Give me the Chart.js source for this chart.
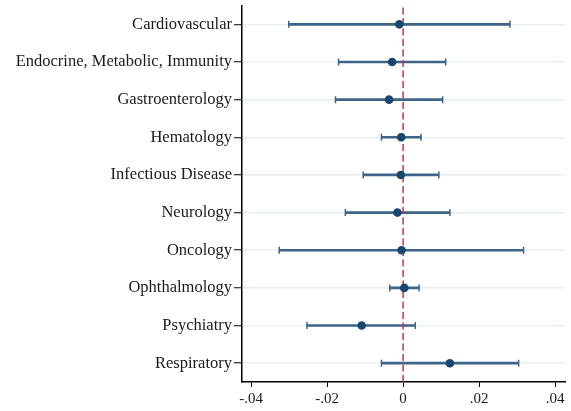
<!DOCTYPE html>
<html>
<head>
<meta charset="utf-8">
<script src="https://cdn.jsdelivr.net/npm/chart.js@4/dist/chart.umd.min.js"></script>
<style>
  html, body { margin: 0; padding: 0; background: #fff; }
  #wrap { width: 571px; height: 411px; position: relative; }
</style>
</head>
<body>
<div id="wrap"><canvas id="coefChart"></canvas></div>
<script>
// Data
const categories = [
    'Cardiovascular',
    'Endocrine, Metabolic, Immunity',
    'Gastroenterology',
    'Hematology',
    'Infectious Disease',
    'Neurology',
    'Oncology',
    'Ophthalmology',
    'Psychiatry',
    'Respiratory'
];
const estimates = [-0.0010, -0.0029, -0.0037, -0.0005, -0.0006, -0.0015, -0.0004, 0.0003, -0.0109, 0.0123];
const ciLow = [-0.0301, -0.0170, -0.0178, -0.0057, -0.0105, -0.0152, -0.0326, -0.0035, -0.0253, -0.0057];
const ciHigh = [0.0281, 0.0112, 0.0104, 0.0047, 0.0094, 0.0123, 0.0317, 0.0042, 0.0032, 0.0304];
const xTickValues = [-0.04, -0.02, 0, 0.02, 0.04];
const refValue = 0;

const barColor = '#3d6589';
const pointColor = '#1a476f';
const serif = "'Liberation Serif', 'DejaVu Serif', serif";

// dashed reference line at x = 0, drawn above the error bars but under the points
const refLine = {
    id: 'refLine',
    afterDatasetDraw(chart, args) {
        if (args.index !== 1) return;
        const ctx = chart.ctx;
        const x = chart.scales.x.getPixelForValue(refValue);
        const area = chart.chartArea;
        ctx.save();
        ctx.strokeStyle = '#c8324f';
        ctx.lineWidth = 1.5;
        ctx.setLineDash([7, 3.5]);
        ctx.beginPath();
        ctx.moveTo(x, area.top + 2);
        ctx.lineTo(x, area.bottom);
        ctx.stroke();
        ctx.restore();
    }
};

var ctx = document.getElementById('coefChart').getContext('2d');
var coefChart = new Chart(ctx, {
    type: 'bar',
    data: {
        labels: categories,
        datasets: [{
            // confidence intervals
            data: categories.map((c, i) => [ciLow[i], ciHigh[i]]),
            backgroundColor: barColor,
            barThickness: 2,
            order: 3
        }, {
            // interval caps
            type: 'scatter',
            data: categories.map((c, i) => ({ x: ciLow[i], y: c }))
                .concat(categories.map((c, i) => ({ x: ciHigh[i], y: c }))),
            pointStyle: 'line',
            rotation: 90,
            pointRadius: 3.5,
            borderWidth: 1.5,
            borderColor: barColor,
            order: 2
        }, {
            // point estimates
            type: 'scatter',
            data: categories.map((c, i) => ({ x: estimates[i], y: c })),
            pointRadius: 4.3,
            backgroundColor: pointColor,
            borderWidth: 0,
            order: 1
        }]
    },
    options: {
        indexAxis: 'y',
        responsive: true,
        maintainAspectRatio: false,
        animation: false,
        layout: {
            padding: { top: 5, right: 6, left: 0, bottom: 0 }
        },
        plugins: {
            legend: { display: false },
            tooltip: { enabled: false }
        },
        scales: {
            x: {
                type: 'linear',
                min: -0.0424,
                max: 0.0426,
                afterBuildTicks: axis => {
                    axis.ticks = xTickValues.map(v => ({ value: v }));
                },
                afterFit: scale => { scale.height = 29; },
                grid: {
                    drawOnChartArea: false,
                    drawTicks: true,
                    tickLength: 5,
                    tickColor: '#000',
                    tickWidth: 1
                },
                border: { color: '#000', width: 1.5 },
                ticks: {
                    padding: 3,
                    color: '#1a1a1a',
                    font: { family: serif, size: 15 },
                    callback: v => v === 0 ? '0' : (v < 0 ? '-' : '') + Math.abs(v).toFixed(2).replace(/^0/, '')
                }
            },
            y: {
                type: 'category',
                offset: true,
                afterFit: scale => {
                    scale.width = 242;
                    scale.paddingTop = 0;
                    scale.paddingBottom = 0;
                },
                grid: {
                    offset: false,
                    color: '#e8eff2',
                    lineWidth: 1.5,
                    drawTicks: true,
                    tickLength: 8,
                    tickColor: '#000',
                    tickWidth: 1
                },
                border: { color: '#000', width: 1.5 },
                ticks: {
                    padding: 2,
                    color: '#1a1a1a',
                    font: { family: serif, size: 16.5 }
                }
            }
        }
    },
    plugins: [refLine]
});
</script>
</body>
</html>
